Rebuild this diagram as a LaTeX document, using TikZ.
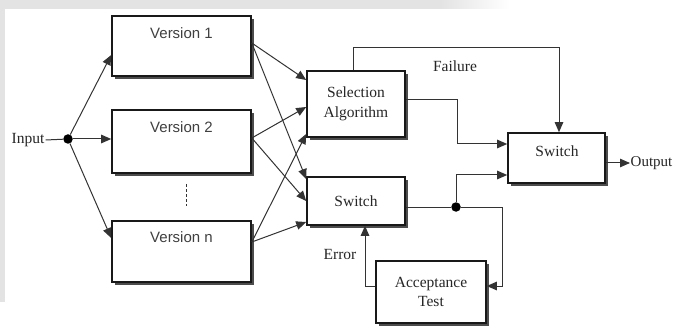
\documentclass[tikz,border=0pt]{standalone}
\usepackage{fontspec}
\setmainfont{Liberation Serif}
\newfontfamily\vsans{Liberation Sans}
\usetikzlibrary{arrows.meta,shadows}
\begin{document}
\begin{tikzpicture}[x=1pt,y=-1pt,
  box/.style={draw=black!90, line width=1.6pt, fill=white, rectangle, inner sep=0pt,
    drop shadow={shadow xshift=3pt, shadow yshift=-3pt, fill=black!70, opacity=1}},
  conn/.style={draw=black!80, line width=1pt},
  arr/.style={conn, -{Triangle[length=10pt,width=8.5pt]}},
  lbl/.style={font=\fontsize{15.5}{19.5}\selectfont, text=black!85, inner sep=1pt, align=center},
  vlbl/.style={font=\vsans\fontsize{15}{18}\selectfont, text=black!75, inner sep=1pt},
  jdot/.style={circle, fill=black, inner sep=0pt, minimum size=9.5pt},
]
\useasboundingbox (0,0) rectangle (675,326);

% light frame along the top and left edges
\fill[gray!22] (0,0) rectangle (440,9);
\shade[left color=gray!22, right color=white] (440,0) rectangle (510,9);
\fill[gray!22] (0,9) rectangle (4.5,302);

% version blocks
\node[box, minimum width=139pt, minimum height=60pt] (v1) at (181.5,46) {};
\node[box, minimum width=139pt, minimum height=63pt] (v2) at (181.5,141.5) {};
\node[box, minimum width=139pt, minimum height=61pt] (vn) at (181.5,251.5) {};
\node[vlbl] (v1t) at (181.5,33) {Version 1};
\node[vlbl] (v2t) at (181.5,127) {Version 2};
\node[vlbl] (vnt) at (181.5,237) {Version n};

% decision blocks
\node[box, minimum width=98pt, minimum height=66pt, lbl] (sel) at (356,104) {Selection\\Algorithm};
\node[box, minimum width=98pt, minimum height=48pt, lbl] (swm) at (356,201) {Switch};
\node[box, minimum width=97pt, minimum height=50pt] (swr) at (556.5,158) {};
\node[lbl] (swrt) at (557,151) {Switch};
\node[box, minimum width=110pt, minimum height=62pt, lbl] (acc) at (431,292) {Acceptance\\Test};

% text labels
\node[lbl] (in) at (28,140) {Input};
\node[lbl, anchor=west, inner sep=0.5pt, font=\fontsize{15}{19}\selectfont] (out) at (630,163) {Output};
\node[lbl] (fail) at (455,66) {Failure};
\node[lbl] (err) at (340,255) {Error};

% junction dots
\node[jdot] (d1) at (68,139) {};
\node[jdot] (d2) at (456,207) {};

% input fan-out
\draw[conn] (in.east) -- (d1);
\draw[arr] (d1) -- ([yshift=-9pt]v1.west);
\draw[arr] (d1) -- (d1 -| v2.west);
\draw[arr] (d1) -- ([yshift=13.5pt]vn.west);

% continuation marks between versions
\draw[conn, dash pattern=on 3pt off 2pt] ([xshift=4.5pt,yshift=-10pt]v2.south) -- ([xshift=4.5pt,yshift=14pt]vn.north);

% version outputs
\draw[arr] ([yshift=3pt]v1.east) -- ([yshift=24pt]sel.west);
\draw[arr] ([yshift=3pt]v1.east) -- ([yshift=22pt]swm.west);
\draw[arr] ([yshift=3.5pt]v2.east) -- ([yshift=-3pt]sel.west);
\draw[arr] ([yshift=3.5pt]v2.east) -- (swm.west);
\draw[arr] ([yshift=9.5pt]vn.east) -- ([yshift=-30pt]sel.west);
\draw[arr] ([yshift=9.5pt]vn.east) -- ([yshift=-21pt]swm.west);

% selection path
\draw[arr] ([yshift=4pt]sel.east) -- ++(52,0) |- ([yshift=14pt]swr.west);
\draw[arr] ([xshift=-3pt]sel.north) -- ++(0,-23) -| ([xshift=2.5pt]swr.north);

% acceptance path
\draw[conn] ([yshift=-6pt]swm.east) -- (d2);
\draw[arr] (d2) |- ([yshift=-17pt]swr.west);
\draw[arr] (d2) -- ++(46,0) |- ([yshift=6pt]acc.east);
\draw[arr] ([yshift=6pt]acc.west) -| ([xshift=9pt]swm.south);

% output
\draw[arr] ([yshift=-5pt]swr.east) -- (out.west);
\end{tikzpicture}
\end{document}
